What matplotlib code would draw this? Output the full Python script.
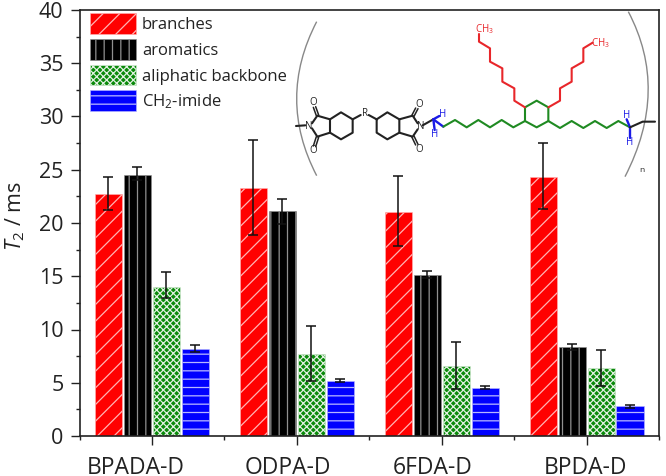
import numpy as np
import matplotlib
matplotlib.use("Agg")
import matplotlib.pyplot as plt
from matplotlib.path import Path
from matplotlib.patches import PathPatch, Patch
from matplotlib.transforms import ScaledTranslation

plt.rcParams['font.family'] = ['Open Sans', 'DejaVu Sans']
plt.rcParams['mathtext.fontset'] = 'custom'
plt.rcParams['mathtext.rm'] = 'Open Sans'
plt.rcParams['mathtext.it'] = 'Open Sans:italic'
plt.rcParams['hatch.linewidth'] = 0.9

categories = ['BPADA-D', 'ODPA-D', '6FDA-D', 'BPDA-D']
branches = [22.7, 23.3, 21.0, 24.3]
branches_hi = [24.3, 27.8, 24.4, 27.5]
branches_lo = [21.2, 18.9, 17.8, 21.3]
aromatics = [24.5, 21.1, 15.1, 8.4]
aromatics_hi = [25.3, 22.3, 15.5, 8.65]
aromatics_lo = [24.0, 19.9, 14.8, 8.1]
aliphatic = [14.0, 7.7, 6.6, 6.4]
aliphatic_hi = [15.4, 10.3, 8.8, 8.1]
aliphatic_lo = [13.0, 5.2, 4.4, 4.7]
imide = [8.2, 5.2, 4.5, 2.8]
imide_hi = [8.5, 5.35, 4.65, 2.9]
imide_lo = [7.9, 5.05, 4.4, 2.65]

series = [
    ('branches', branches, branches_lo, branches_hi, '#ff0000', '#ffb4b4', '//'),
    ('aromatics', aromatics, aromatics_lo, aromatics_hi, '#000000', '#909090', '||'),
    ('aliphatic backbone', aliphatic, aliphatic_lo, aliphatic_hi, '#0a8a0a', '#e0f0e0', 'xxxxx'),
    ('CH$_2$-imide', imide, imide_lo, imide_hi, '#0000ff', '#b8b8ff', '--'),
]

fig = plt.figure(figsize=(6.66, 4.76), dpi=100)
ax = fig.add_axes([79.5/666, 1-436/476, (659-79.5)/666, (436-10)/476])
x = np.arange(1, len(categories)+1)
w = 0.187
handles = []
for i, (name, vals, lo, hi, fc, hc, hatch) in enumerate(series):
    pos = x + (i-1.5)*0.2
    vals = np.array(vals); lo = np.array(lo); hi = np.array(hi)
    ax.bar(pos, vals, w, facecolor=fc, edgecolor=hc, hatch=hatch, linewidth=0.4)
    ax.errorbar(pos, vals, yerr=[vals-lo, hi-vals], fmt='none', ecolor='#111111',
                elinewidth=1.1, capsize=3.4, capthick=1.1)
    handles.append(Patch(facecolor=fc, edgecolor=hc, hatch=hatch, linewidth=0.4, label=name))

ax.set_xlim(0.5, 4.5)
ax.set_ylim(0, 40)
ax.set_xticks(x)
ax.set_xticklabels(categories, fontsize=16.5)
ax.set_xticks(np.arange(0.5, 5), minor=True)
ax.set_yticks(np.arange(0, 41, 5))
ax.set_yticks(np.arange(2.5, 40, 5), minor=True)
ax.tick_params(axis='both', which='major', length=6.5, width=1, color='#222222', labelcolor='#222222')
ax.tick_params(axis='both', which='minor', length=3, width=1, color='#222222')
ax.tick_params(axis='y', which='major', labelsize=15.5, pad=5)
ax.tick_params(axis='x', which='major', pad=8)
# the category labels sit left of their ticks in the reference
label_shift_px = [-16.5, -9, -9, -1]
for lab, dx in zip(ax.get_xticklabels(), label_shift_px):
    lab.set_transform(lab.get_transform() + ScaledTranslation(dx/100, 0, fig.dpi_scale_trans))
ax.set_ylabel(r'$\mathit{T}_2$ / ms', fontsize=15.5, color='#222222')
ax.yaxis.set_label_coords(-(79.5-27)/579.5, (436-216)/426)
for s in ax.spines.values():
    s.set_linewidth(1.2)
    s.set_color('#222222')

ax.legend(handles=handles, loc='upper left', bbox_to_anchor=(10.5/579.5, 0.9925), frameon=False,
          fontsize=12, handlelength=2.76, handleheight=1.55, handletextpad=0.36,
          labelspacing=0.29, borderpad=0, borderaxespad=0, labelcolor='#222222')

# structure scheme, in zoomed image units
ov = fig.add_axes([0, 0, 1, 1], facecolor='none')
ov.set_xlim(0, 666); ov.set_ylim(476, 0); ov.axis('off')
def P(pts):
    a = np.array(pts, float)
    return 270 + a[:, 0]/3, 10 + a[:, 1]/3
def L(pts, c='#222222', lw=1.5):
    xs, ys = P(pts)
    ov.plot(xs, ys, color=c, lw=lw, solid_joinstyle='round', solid_capstyle='round')
def T(zx, zy, s, c='#222222', fs=7):
    xs, ys = P([(zx, zy)])
    ov.text(xs[0], ys[0], s, color=c, fontsize=fs, ha='center', va='center')

red, green, blue = '#e8262a', '#1f8a22', '#1a1ae6'
L([(78, 348), (106, 346)])
L([(126, 355), (142, 380), (180, 368), (180, 328), (142, 317), (126, 340)])
L([(180, 328), (213, 307), (248, 328), (248, 368), (213, 388), (180, 368)])
L([(248, 328), (272, 315)]); L([(296, 315), (320, 328)])
L([(320, 328), (352, 307), (388, 328), (388, 368), (352, 388), (320, 368), (320, 328)])
L([(388, 328), (428, 317), (443, 340)]); L([(443, 358), (428, 380), (388, 368)])
L([(139, 317), (130, 292)], lw=1.1); L([(146, 315), (137, 290)], lw=1.1)
L([(139, 380), (130, 408)], lw=1.1); L([(146, 382), (137, 410)], lw=1.1)
L([(425, 317), (437, 294)], lw=1.1); L([(432, 319), (444, 296)], lw=1.1)
L([(425, 380), (437, 405)], lw=1.1); L([(432, 378), (444, 403)], lw=1.1)
L([(458, 346), (490, 328)])
L([(490, 328), (520, 350)], blue, 1.7)
L([(490, 328), (494, 360)], blue, 1.7)
L([(490, 328), (508, 318)], blue, 1.7)
L([(520, 350), (555, 330), (590, 352), (625, 330), (660, 352), (695, 330), (730, 352), (765, 333)], green)
L([(765, 292), (800, 272), (835, 292), (835, 333), (800, 352), (765, 333), (765, 292)], green)
L([(835, 333), (870, 354), (905, 333), (940, 354), (975, 333), (1010, 354), (1045, 333), (1080, 352)], green)
L([(1080, 352), (1070, 328)], blue, 1.7)
L([(1080, 352), (1080, 385)], blue, 1.7)
L([(1080, 352), (1118, 335), (1155, 335)])
L([(765, 292), (733, 272), (733, 235), (697, 215), (697, 175), (660, 155), (660, 115), (627, 95), (627, 72)], red)
L([(835, 292), (870, 272), (870, 235), (905, 215), (905, 175), (940, 155), (940, 115), (968, 98)], red)
for zx, zy, s in [(117, 349, 'N'), (130, 278, 'O'), (130, 422, 'O'), (284, 310, 'R'),
                  (452, 349, 'N'), (447, 283, 'O'), (447, 417, 'O'), (1115, 480, 'n')]:
    T(zx, zy, s, fs=7 if s != 'n' else 6)
for zx, zy in [(518, 313), (495, 373), (1070, 318), (1078, 398)]:
    T(zx, zy, 'H', blue, 7)
T(642, 58, 'CH$_3$', red, 7)
T(992, 98, 'CH$_3$', red, 7)
for pts in [[(140, 35), (20, 266), (140, 497)], [(1075, 5), (1199, 240), (1065, 500)]]:
    xs, ys = P(pts)
    ov.add_patch(PathPatch(Path(list(zip(xs, ys)), [Path.MOVETO, Path.CURVE3, Path.CURVE3]),
                           fc='none', ec='#888888', lw=1))

fig.savefig('out.png', dpi=100)
